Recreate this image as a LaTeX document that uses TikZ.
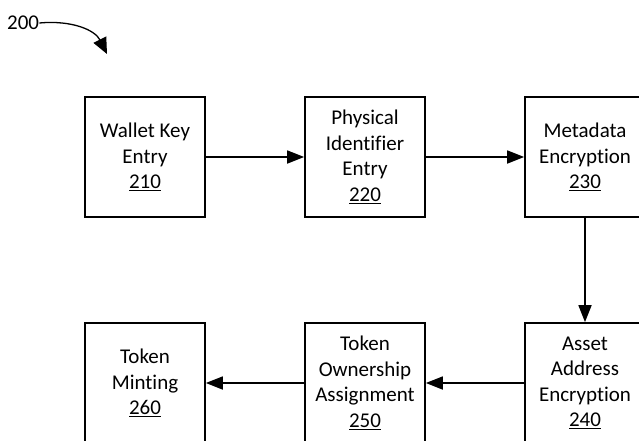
\documentclass[tikz,border=0pt]{standalone}
\usepackage{fontspec}
\setmainfont[Ligatures=NoCommon]{Carlito}
\usetikzlibrary{arrows.meta}
\tikzset{
  stepbox/.style={draw, line width=1.7pt, minimum width=120pt, minimum height=120pt, inner sep=0pt,
    align=center, font=\fontsize{21}{25.5}\selectfont},
  flow/.style={line width=1.7pt, -{Triangle[length=17pt,width=13pt]}},
  lbl/.style={font=\fontsize{21}{25}\selectfont, inner sep=0pt}
}
\begin{document}
\begin{tikzpicture}[x=1pt,y=-1pt]
\clip (0,0) rectangle (639,440);
\fill[white] (0,0) rectangle (639,440);
\node[stepbox] (b210) at (145,157) {Wallet Key\\Entry\\\underline{210}};
\node[stepbox] (b220) at (365,157) {Physical\\Identifier\\Entry\\\underline{220}};
\node[stepbox] (b230) at (585,157) {Metadata\\Encryption\\\underline{230}};
\node[stepbox] (b240) at (585,383) {Asset\\Address\\Encryption\\\underline{240}};
\node[stepbox] (b250) at (365,383) {Token\\Ownership\\Assignment\\\underline{250}};
\node[stepbox] (b260) at (145,383) {Token\\Minting\\\underline{260}};
\draw[flow] (b210.east) -- (b220.west);
\draw[flow] (b220.east) -- (b230.west);
\draw[flow] (b230.south) -- (b240.north);
\draw[flow] (b240.west) -- (b250.east);
\draw[flow] (b250.west) -- (b260.east);
\node[lbl, anchor=west] (l200) at (7,23) {200};
\coordinate (c200) at (107,54);
\draw[line width=1.3pt, -{Triangle[length=16pt,width=14pt]}] (l200.east) .. controls (72,20) and (95,30) .. (c200);
\end{tikzpicture}
\end{document}
